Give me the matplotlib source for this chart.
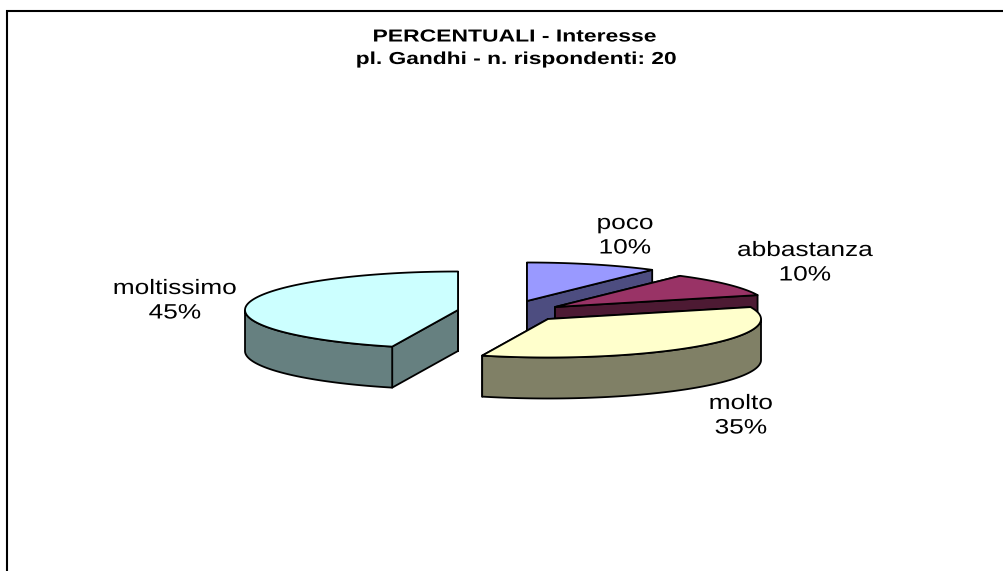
import numpy as np
import matplotlib
matplotlib.use("Agg")
import matplotlib.pyplot as plt
from matplotlib.patheffects import AbstractPathEffect
from matplotlib.transforms import Affine2D

categories = ["poco", "abbastanza", "molto", "moltissimo"]
percent = [10, 10, 35, 45]
title_lines = ["PERCENTUALI - Interesse", "pl. Gandhi - n. rispondenti: 20"]

# layout (pixel-space styling of the pseudo-3D pie)
RX, RY, DEPTH = 213, 38.5, 41
centres = [(527, 301), (555, 307), (548, 319), (458, 310)]
top_cols = ["#9999FF", "#993366", "#FFFFCC", "#CCFFFF"]
side_cols = ["#4D4D80", "#4D1A33", "#808066", "#668080"]
label_pos = [(625, 229), (805, 256), (741, 409), (175, 294)]
LINE_GAP = 24.5
LW = 1.3

plt.rcParams["font.family"] = ["Liberation Sans", "DejaVu Sans"]
fig = plt.figure(figsize=(10.04, 5.71), dpi=100, facecolor="white")
ax = fig.add_axes([0, 0, 1, 1])
ax.set_xlim(0, 1004)
ax.set_ylim(571, 0)
ax.axis("off")


class Widen(AbstractPathEffect):
    """The reference text is stretched sideways; widen glyphs about x0."""

    def __init__(self, x0, sx):
        super().__init__()
        self.x0, self.sx = x0, sx

    def draw_path(self, renderer, gc, tpath, affine, rgbFace=None):
        t = affine + Affine2D().translate(-self.x0, 0).scale(self.sx, 1).translate(self.x0, 0)
        renderer.draw_path(gc, tpath, t, rgbFace)


def put_text(x, y, s, size, sx, **kw):
    ax.text(x, y, s, ha="center", va="baseline", fontsize=size, color="black",
            zorder=11, path_effects=[Widen(x, sx)], **kw)


def pt(c, t):
    return c[0] + RX * np.cos(t), c[1] - RY * np.sin(t)


def draw_slice(c, t0, t1, top, side, z):
    """Slice runs clockwise from parameter angle t0 down to t1."""
    k = dict(edgecolor="black", linewidth=LW, joinstyle="round", zorder=z)
    # cut faces
    for t in (t0, t1):
        x, y = pt(c, t)
        ax.fill([c[0], x, x, c[0]], [c[1], y, y + DEPTH, c[1] + DEPTH], facecolor=side, **k)
    # outer rim, only the part turned to the viewer
    ts = np.linspace(t1, t0, 300)
    front = ts[np.sin(ts) <= 0]
    if front.size > 1:
        x, y = pt(c, front)
        ax.fill(np.r_[x, x[::-1]], np.r_[y, y[::-1] + DEPTH], facecolor=side, **k)
    # top face
    x, y = pt(c, np.linspace(t0, t1, 120))
    ax.fill(np.r_[c[0], x], np.r_[c[1], y], facecolor=top, **k)


start = np.pi / 2
angles = []
for v in percent:
    end = start - 2 * np.pi * v / sum(percent)
    angles.append((start, end))
    start = end

for i, (t0, t1) in enumerate(angles):
    draw_slice(centres[i], t0, t1, top_cols[i], side_cols[i], z=2 + i)

# chart frame: left and top edges only
ax.plot([7.5, 7.5, 1004], [571, 10.5, 10.5], color="black", lw=1.5,
        solid_joinstyle="miter", zorder=10)

for name, v, (x, y) in zip(categories, percent, label_pos):
    put_text(x, y, name, 15, 1.26)
    put_text(x, y + LINE_GAP, f"{v}%", 15, 1.26)

put_text(514.5, 41.5, title_lines[0], 12.5, 1.32, fontweight="bold")
put_text(517, 64, title_lines[1], 12.5, 1.31, fontweight="bold")

fig.savefig("out.png", dpi=100, facecolor="white")
